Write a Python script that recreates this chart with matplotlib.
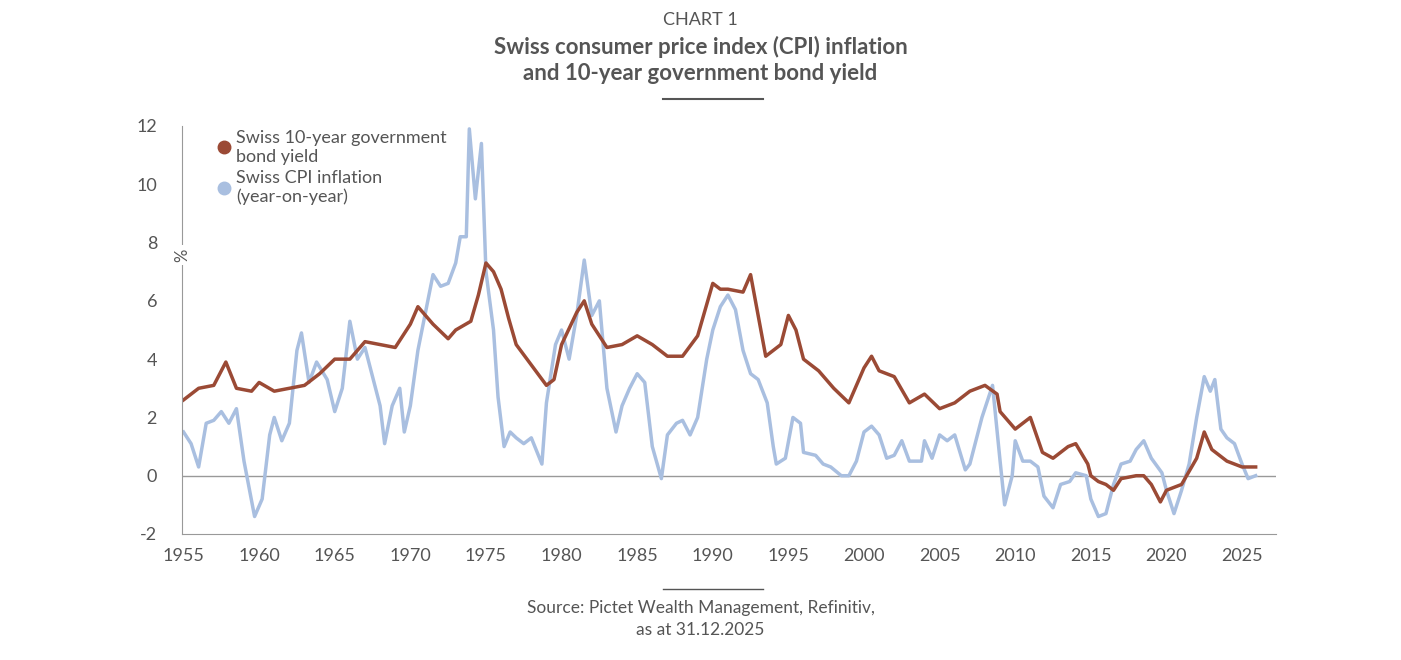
import matplotlib
matplotlib.use("Agg")
import matplotlib.pyplot as plt

bond_year = [1955,1956,1957,1957.8,1958.5,1959.5,1960,1961,1962,1963,1964,1965,1966,1967,1968,1969,1970,1970.5,1971.5,1972.5,1973,1974,1974.5,1975,1975.5,1976,1976.5,1977,1978,1979,1979.5,1980,1981,1981.5,1982,1982.5,1983,1984,1985,1986,1987,1988,1989,1990,1990.5,1991,1992,1992.5,1993,1993.5,1994.5,1995,1995.5,1996,1997,1998,1999,2000,2000.5,2001,2002,2003,2004,2005,2006,2007,2008,2008.8,2009,2010,2011,2011.8,2012.5,2013.5,2014,2014.8,2015,2015.5,2016,2016.5,2017,2018,2018.5,2019,2019.6,2020,2021,2022,2022.5,2023,2024,2025,2025.9]
bond_val = [2.6,3.0,3.1,3.9,3.0,2.9,3.2,2.9,3.0,3.1,3.5,4.0,4.0,4.6,4.5,4.4,5.2,5.8,5.2,4.7,5.0,5.3,6.2,7.3,7.0,6.4,5.4,4.5,3.8,3.1,3.3,4.5,5.6,6.0,5.2,4.8,4.4,4.5,4.8,4.5,4.1,4.1,4.8,6.6,6.4,6.4,6.3,6.9,5.5,4.1,4.5,5.5,5.0,4.0,3.6,3.0,2.5,3.7,4.1,3.6,3.4,2.5,2.8,2.3,2.5,2.9,3.1,2.8,2.2,1.6,2.0,0.8,0.6,1.0,1.1,0.4,0.0,-0.2,-0.3,-0.5,-0.1,0.0,0.0,-0.3,-0.9,-0.5,-0.3,0.6,1.5,0.9,0.5,0.3,0.3]

cpi_year = [1955,1955.5,1956,1956.5,1957,1957.5,1958,1958.5,1959,1959.7,1960.2,1960.7,1961,1961.5,1962,1962.5,1962.8,1963.3,1963.8,1964.5,1965,1965.5,1966,1966.5,1967,1967.5,1968,1968.3,1968.8,1969.3,1969.6,1970,1970.5,1971,1971.5,1972,1972.5,1973,1973.3,1973.7,1973.9,1974.3,1974.7,1975,1975.5,1975.8,1976.2,1976.6,1977,1977.5,1978,1978.7,1979,1979.6,1980,1980.5,1981,1981.5,1982,1982.5,1983,1983.6,1984,1984.5,1985,1985.5,1986,1986.6,1987,1987.6,1988,1988.5,1989,1989.6,1990,1990.5,1991,1991.5,1992,1992.5,1993,1993.6,1994,1994.2,1994.8,1995.3,1995.8,1996,1996.8,1997.3,1997.8,1998.5,1999,1999.5,2000,2000.5,2001,2001.5,2002,2002.5,2003,2003.8,2004,2004.5,2005,2005.5,2006,2006.7,2007,2007.8,2008.5,2009,2009.3,2009.8,2010,2010.5,2011,2011.5,2011.9,2012.5,2013,2013.6,2014,2014.7,2015,2015.5,2016,2016.5,2017,2017.6,2018,2018.5,2019,2019.7,2020,2020.5,2021,2021.5,2022,2022.5,2022.9,2023.2,2023.6,2024,2024.5,2025,2025.4,2025.9]
cpi_val = [1.5,1.1,0.3,1.8,1.9,2.2,1.8,2.3,0.5,-1.4,-0.8,1.4,2.0,1.2,1.8,4.3,4.9,3.2,3.9,3.3,2.2,3.0,5.3,4.0,4.4,3.4,2.4,1.1,2.4,3.0,1.5,2.4,4.3,5.6,6.9,6.5,6.6,7.3,8.2,8.2,11.9,9.5,11.4,7.0,5.0,2.7,1.0,1.5,1.3,1.1,1.3,0.4,2.5,4.5,5.0,4.0,5.5,7.4,5.5,6.0,3.0,1.5,2.4,3.0,3.5,3.2,1.0,-0.1,1.4,1.8,1.9,1.4,2.0,4.0,5.0,5.8,6.2,5.7,4.3,3.5,3.3,2.5,1.0,0.4,0.6,2.0,1.8,0.8,0.7,0.4,0.3,0.0,0.0,0.5,1.5,1.7,1.4,0.6,0.7,1.2,0.5,0.5,1.2,0.6,1.4,1.2,1.4,0.2,0.4,2.0,3.1,0.5,-1.0,0.0,1.2,0.5,0.5,0.3,-0.7,-1.1,-0.3,-0.2,0.1,0.0,-0.8,-1.4,-1.3,-0.3,0.4,0.5,0.9,1.2,0.6,0.1,-0.5,-1.3,-0.5,0.4,2.0,3.4,2.9,3.3,1.6,1.3,1.1,0.4,-0.1,0.0]

xticks = [1955,1960,1965,1970,1975,1980,1985,1990,1995,2000,2005,2010,2015,2020,2025]
yticks = [-2,0,2,4,6,8,10,12]

GRAY = "#555555"
RED = "#9b4a35"
BLUE = "#a9bfe0"
plt.rcParams['font.family'] = ['Lato', 'DejaVu Sans']

W, H = 1401, 660
fig = plt.figure(figsize=(W/100, H/100), dpi=100)
ax = fig.add_axes([182/W, 1-534/H, (1276-182)/W, (534-126)/H])
ax.plot(cpi_year, cpi_val, color=BLUE, lw=2.5)
ax.plot(bond_year, bond_val, color=RED, lw=2.5)
ax.axhline(0, color="#999999", lw=1, zorder=0)
ax.set_xlim(1955 - 0.1, 1955 + (1276-182)/(1060/70))
ax.set_ylim(-2, 12)
for s in ["top", "right"]:
    ax.spines[s].set_visible(False)
ax.spines["left"].set_color("#999999")
ax.spines["bottom"].set_color("#999999")
ax.set_xticks(xticks)
ax.set_xticklabels([str(x) for x in xticks])
ax.set_yticks(yticks)
ax.set_yticklabels([str(y) for y in yticks])
ax.tick_params(length=0, labelsize=13, colors=GRAY, pad=10)
ax.tick_params(axis="y", pad=18)
ax.text(0.0, 1-(255-126)/(534-126), "%", transform=ax.transAxes, rotation=90, color=GRAY,
        fontsize=12, ha="center", va="center", zorder=5,
        bbox=dict(facecolor="white", edgecolor="none", pad=2))

ax.plot([], [], 'o', color=RED, ms=9, label="Swiss 10-year government\nbond yield")
ax.plot([], [], 'o', color=BLUE, ms=9, label="Swiss CPI inflation\n(year-on-year)")
h, l = ax.get_legend_handles_labels()
leg = ax.legend(h[-2:], l[-2:], loc="upper left", bbox_to_anchor=(0.015, 1.03), frameon=False,
                fontsize=13, handletextpad=0.2, handlelength=1, labelspacing=0.3)
for t in leg.get_texts():
    t.set_color(GRAY)

fig.text(0.5, 1-20/H, "CHART 1", ha="center", va="center", color=GRAY, fontsize=13)
fig.text(0.5, 1-60/H, "Swiss consumer price index (CPI) inflation\nand 10-year government bond yield",
         ha="center", va="center", color=GRAY, fontsize=16, fontweight="bold", linespacing=1.3)
fig.add_artist(plt.Line2D([663/W, 763/W], [1-99/H, 1-99/H], color=GRAY, lw=1.5))
fig.add_artist(plt.Line2D([663/W, 763/W], [1-589/H, 1-589/H], color=GRAY, lw=1))
fig.text(0.5, 1-619/H, "Source: Pictet Wealth Management, Refinitiv,\nas at 31.12.2025",
         ha="center", va="center", color=GRAY, fontsize=12.5, linespacing=1.4)
fig.savefig("out.png", dpi=100, facecolor="white")
